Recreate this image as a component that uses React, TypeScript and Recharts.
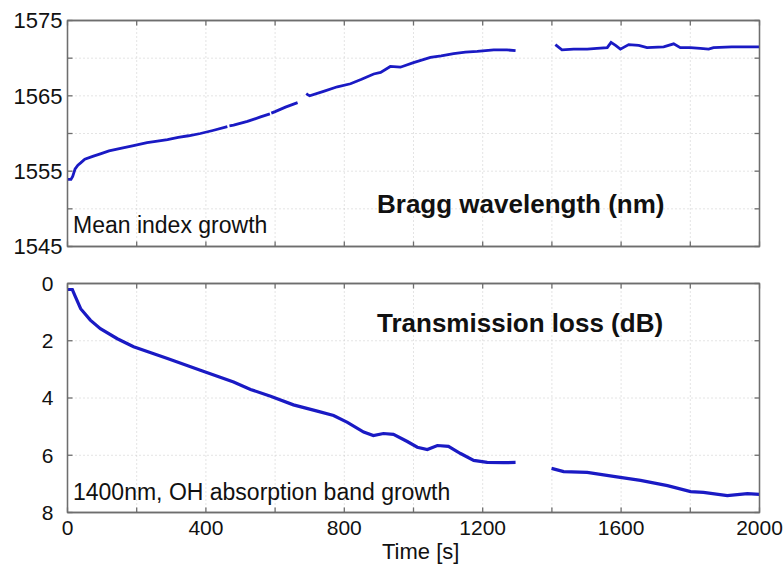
import { CartesianGrid, Line, LineChart, ReferenceArea, XAxis, YAxis } from "recharts";

// Bragg wavelength (nm) vs time (s); null = gap in the trace
const braggTime = [
  0, 10, 15, 22, 30, 38, 50, 75, 95, 120, 150, 191, 230, 260, 289, 320, 350, 384, 420, 462, 466,
  468, 480, 520, 558, 585, 587, 589, 600, 630, 665, 672, 690, 693, 700, 740, 780, 818, 850, 885,
  905, 933, 962, 1000, 1049, 1080, 1116, 1150, 1184, 1232, 1270, 1295, 1350, 1410, 1429, 1463,
  1502, 1530, 1560, 1571, 1584, 1598, 1622, 1651, 1675, 1723, 1752, 1771, 1800, 1829, 1853, 1867,
  1920, 1960, 2000,
];
const braggWave = [
  1553.9, 1553.9, 1554.3, 1555.3, 1555.8, 1556.1, 1556.6, 1557.0, 1557.3, 1557.7, 1558.0, 1558.4,
  1558.8, 1559.0, 1559.2, 1559.5, 1559.7, 1560.0, 1560.4, 1560.9, null, 1561.0, 1561.1, 1561.6,
  1562.2, 1562.6, null, 1562.7, 1562.9, 1563.5, 1564.1, null, 1565.3, 1565.2, 1565.0, 1565.6,
  1566.2, 1566.6, 1567.2, 1567.9, 1568.1, 1568.9, 1568.8, 1569.4, 1570.1, 1570.3, 1570.6, 1570.8,
  1570.9, 1571.1, 1571.1, 1571.0, null, 1571.8, 1571.1, 1571.2, 1571.2, 1571.3, 1571.4, 1572.1,
  1571.7, 1571.2, 1571.8, 1571.7, 1571.4, 1571.5, 1571.9, 1571.4, 1571.4, 1571.3, 1571.2, 1571.4,
  1571.5, 1571.5, 1571.5,
];

// Transmission loss (dB) vs time (s)
const lossTime = [
  0, 14, 23, 38, 66, 95, 144, 191, 289, 384, 480, 529, 587, 653, 722, 769, 809, 856, 884, 913,
  942, 982, 1011, 1040, 1069, 1101, 1136, 1174, 1213, 1260, 1295, 1350, 1399, 1434, 1502, 1578,
  1656, 1734, 1801, 1838, 1907, 1965, 2000,
];
const lossDb = [
  0.21, 0.21, 0.47, 0.88, 1.28, 1.58, 1.93, 2.21, 2.62, 3.03, 3.44, 3.7, 3.94, 4.24, 4.46, 4.61,
  4.85, 5.19, 5.31, 5.24, 5.27, 5.52, 5.72, 5.8, 5.66, 5.69, 5.94, 6.18, 6.25, 6.26, 6.25, null,
  6.46, 6.57, 6.6, 6.74, 6.88, 7.06, 7.27, 7.3, 7.41, 7.34, 7.37,
];

const timeTicks = [0, 200, 400, 600, 800, 1000, 1200, 1400, 1600, 1800, 2000];
const braggTicks = [1545, 1550, 1555, 1560, 1565, 1570, 1575];
const lossTicks = [0, 2, 4, 6, 8];

const braggData = braggTime.map((t, i) => ({ t, v: braggWave[i] }));
const lossData = lossTime.map((t, i) => ({ t, v: lossDb[i] }));

const FONT = "'Liberation Sans', Arial, sans-serif";
const BLUE = "#1a1ac4";
const BOX = "#6e6e6e";
const line = { stroke: BOX, strokeWidth: 1.3 };
const tickText = (size: number) => ({ fill: "#111", fontSize: size, fontFamily: FONT });
const blank = () => "";

const textStyle = (left: number, top: number, size: number, bold = false): React.CSSProperties => ({
  position: "absolute",
  left,
  top,
  fontSize: size,
  lineHeight: 1,
  fontFamily: FONT,
  fontWeight: bold ? "bold" : "normal",
  color: "#111",
  whiteSpace: "nowrap",
});

export default function App() {
  return (
    <div
      style={{
        position: "absolute",
        left: 0,
        top: 0,
        width: 783,
        height: 569,
        background: "#fff",
        overflow: "hidden",
      }}
    >
      <div style={{ position: "absolute", left: 0, top: 0 }}>
        <LineChart width={783} height={262} margin={{ top: 19.5, right: 22.5, bottom: 14.5, left: 0.5 }}>
          <CartesianGrid stroke="#c8c8c8" strokeDasharray="1 3" />
          <XAxis
            type="number"
            dataKey="t"
            domain={[0, 2000]}
            ticks={timeTicks}
            height={1}
            tickFormatter={blank}
            tickSize={-5}
            axisLine={line}
            tickLine={line}
          />
          <XAxis
            xAxisId="top"
            orientation="top"
            type="number"
            dataKey="t"
            domain={[0, 2000]}
            ticks={timeTicks}
            height={1}
            tickFormatter={blank}
            tickSize={-5}
            axisLine={line}
            tickLine={line}
            allowDataOverflow
          />
          <YAxis
            type="number"
            domain={[1545, 1575]}
            ticks={braggTicks}
            width={67}
            tickSize={-5}
            tickMargin={10}
            axisLine={line}
            tickLine={line}
            tick={tickText(22)}
            tickFormatter={(v: number) => (v % 10 === 5 ? String(v) : "")}
            allowDataOverflow
          />
          <YAxis
            yAxisId="right"
            orientation="right"
            type="number"
            domain={[1545, 1575]}
            ticks={braggTicks}
            width={1}
            tickSize={-5}
            axisLine={line}
            tickLine={line}
            tickFormatter={blank}
            allowDataOverflow
          />
          <ReferenceArea
            x1={0}
            x2={2000}
            y1={1545}
            y2={1575}
            fill="none"
            stroke={BOX}
            strokeWidth={1.3}
            ifOverflow="visible"
          />
          <Line
            data={braggData}
            dataKey="v"
            stroke={BLUE}
            strokeWidth={2.8}
            dot={false}
            connectNulls={false}
            isAnimationActive={false}
          />
        </LineChart>
      </div>

      <div style={{ position: "absolute", left: 0, top: 262 }}>
        <LineChart width={783} height={307} margin={{ top: 20.5, right: 22.5, bottom: 26.5, left: 0.5 }}>
          <CartesianGrid stroke="#c8c8c8" strokeDasharray="1 3" />
          <XAxis
            type="number"
            dataKey="t"
            domain={[0, 2000]}
            ticks={timeTicks}
            height={30}
            tickSize={-5}
            tickMargin={13}
            axisLine={line}
            tickLine={line}
            tick={tickText(21)}
            tickFormatter={(v: number) => (v % 400 === 0 ? String(v) : "")}
          />
          <XAxis
            xAxisId="top"
            orientation="top"
            type="number"
            dataKey="t"
            domain={[0, 2000]}
            ticks={timeTicks}
            height={1}
            tickFormatter={blank}
            tickSize={-5}
            axisLine={line}
            tickLine={line}
            allowDataOverflow
          />
          <YAxis
            type="number"
            reversed
            domain={[0, 8]}
            ticks={lossTicks}
            width={67}
            tickSize={-5}
            tickMargin={19}
            axisLine={line}
            tickLine={line}
            tick={tickText(21)}
            allowDataOverflow
          />
          <YAxis
            yAxisId="right"
            orientation="right"
            type="number"
            reversed
            domain={[0, 8]}
            ticks={lossTicks}
            width={1}
            tickSize={-5}
            axisLine={line}
            tickLine={line}
            tickFormatter={blank}
            allowDataOverflow
          />
          <ReferenceArea
            x1={0}
            x2={2000}
            y1={0}
            y2={8}
            fill="none"
            stroke={BOX}
            strokeWidth={1.3}
            ifOverflow="visible"
          />
          <Line
            data={lossData}
            dataKey="v"
            stroke={BLUE}
            strokeWidth={3.2}
            dot={false}
            connectNulls={false}
            isAnimationActive={false}
          />
        </LineChart>
      </div>

      <div style={textStyle(377, 191, 26, true)}>Bragg wavelength (nm)</div>
      <div style={textStyle(73, 214, 23)}>Mean index growth</div>
      <div style={textStyle(377, 310, 26, true)}>Transmission loss (dB)</div>
      <div style={textStyle(73, 481, 23)}>1400nm, OH absorption band growth</div>
      <div style={textStyle(382, 541, 22)}>Time [s]</div>
    </div>
  );
}
